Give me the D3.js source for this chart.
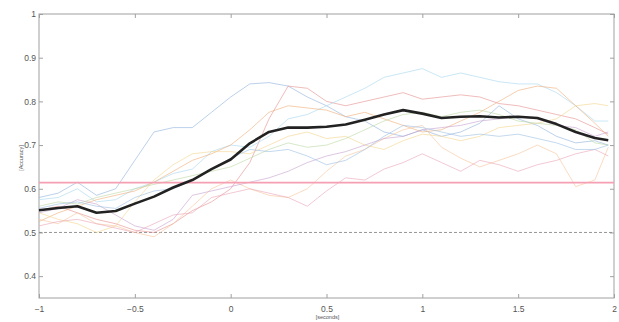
<!DOCTYPE html>
<html>
<head>
<meta charset="utf-8">
<script src="https://cdn.jsdelivr.net/npm/d3@7"></script>
<style>
  body { margin: 0; background: #fff; }
  svg { display: block; font-family: "Liberation Sans", Arial, sans-serif; }
</style>
</head>
<body>
<svg id="chart" width="619" height="322"></svg>
<script>
// time points (seconds)
const times = [-1, -0.9, -0.8, -0.7, -0.6, -0.5, -0.4, -0.3, -0.2, -0.1, 0, 0.1, 0.2, 0.3, 0.4, 0.5,
  0.6, 0.7, 0.8, 0.9, 1.0, 1.1, 1.2, 1.3, 1.4, 1.5, 1.6, 1.7, 1.8, 1.9, 1.97];

// individual subjects (thin lines)
const subjBlue   = [.58,.59,.615,.585,.60,.665,.73,.74,.74,.775,.81,.84,.843,.835,.81,.79,.765,.755,.73,.72,.735,.72,.73,.75,.79,.76,.745,.72,.705,.71,.70];
const subjRed    = [.55,.56,.545,.53,.52,.505,.50,.52,.55,.57,.60,.66,.76,.835,.83,.80,.79,.80,.81,.82,.805,.81,.815,.81,.795,.79,.78,.77,.76,.74,.725];
const subjCyan   = [.575,.58,.60,.57,.575,.60,.615,.635,.645,.685,.70,.695,.72,.76,.77,.79,.81,.83,.855,.865,.875,.855,.865,.855,.845,.84,.84,.82,.79,.755,.755];
const subjOrange = [.525,.545,.56,.575,.585,.595,.615,.64,.665,.68,.70,.735,.775,.79,.785,.78,.765,.775,.76,.745,.73,.735,.755,.775,.80,.825,.835,.83,.79,.75,.72];
const subjYellow = [.545,.53,.52,.50,.515,.57,.62,.655,.68,.685,.685,.68,.70,.72,.73,.715,.72,.70,.69,.71,.725,.72,.71,.72,.74,.745,.75,.76,.79,.795,.79];
const subjPeach  = [.53,.52,.545,.52,.515,.50,.49,.52,.56,.60,.62,.60,.585,.58,.60,.64,.675,.69,.715,.735,.745,.695,.67,.65,.665,.68,.70,.68,.605,.62,.695];
const subjPurple = [.545,.555,.575,.565,.54,.515,.505,.53,.585,.595,.605,.615,.625,.64,.66,.675,.685,.70,.715,.72,.735,.74,.745,.755,.76,.765,.76,.745,.74,.72,.73];
const subjPink   = [.515,.525,.53,.52,.51,.50,.52,.54,.545,.58,.59,.60,.59,.58,.56,.595,.625,.62,.645,.66,.68,.66,.64,.665,.655,.64,.655,.665,.68,.69,.675];
const subjGreen  = [.56,.57,.565,.58,.59,.60,.61,.62,.63,.64,.65,.67,.69,.705,.695,.70,.715,.735,.755,.77,.775,.765,.775,.78,.77,.755,.75,.745,.735,.705,.70];
const subjSteel  = [.555,.565,.57,.56,.555,.58,.595,.60,.62,.645,.67,.69,.685,.69,.675,.655,.665,.69,.72,.745,.74,.73,.72,.725,.72,.725,.715,.705,.69,.69,.70];

const subjects = [subjBlue, subjRed, subjCyan, subjOrange, subjYellow, subjPeach, subjPurple, subjPink, subjGreen, subjSteel];
const subjColors = ["#8fb3dc", "#e69090", "#a7d7ee", "#f0ad78", "#f4d68e", "#f6c49b", "#c6a1cf", "#eaa5b8", "#bad8a4", "#9cbfe2"];

// group mean (thick black)
const meanAcc = [.551,.556,.560,.545,.549,.566,.582,.603,.620,.645,.667,.704,.730,.740,.740,.742,.747,.758,.770,.780,.772,.762,.765,.766,.763,.765,.762,.748,.730,.716,.711];

const chanceLevel = 0.5;
const threshold = 0.614;

const xTicks = [-1, -0.5, 0, 0.5, 1, 1.5, 2];
const yTicks = [0.4, 0.5, 0.6, 0.7, 0.8, 0.9, 1];

const svg = d3.select("#chart");
const m = { left: 39, right: 614, top: 14, bottom: 298 };

const x = d3.scaleLinear().domain([-1, 2]).range([m.left, m.right]);
const y = d3.scaleLinear().domain([0.35, 1]).range([m.bottom, m.top]);

const fmt = d => d3.format("")(d);

// axes box
svg.append("rect")
  .attr("x", m.left).attr("y", m.top)
  .attr("width", m.right - m.left).attr("height", m.bottom - m.top)
  .attr("fill", "#fff")
  .attr("stroke", "#a0a0a0")
  .attr("stroke-width", 1);

const tickColor = "#a0a0a0";

// ticks drawn inside (matlab style), on all four sides
svg.append("g")
  .attr("transform", `translate(0,${m.bottom})`)
  .call(d3.axisBottom(x).tickValues(xTicks).tickSizeInner(-4).tickSizeOuter(0).tickPadding(8).tickFormat(fmt))
  .call(g => g.select(".domain").remove());

svg.append("g")
  .attr("transform", `translate(0,${m.top})`)
  .call(d3.axisTop(x).tickValues(xTicks).tickSizeInner(-4).tickSizeOuter(0).tickFormat(""))
  .call(g => g.select(".domain").remove());

svg.append("g")
  .attr("transform", `translate(${m.left},0)`)
  .call(d3.axisLeft(y).tickValues(yTicks).tickSizeInner(-4).tickSizeOuter(0).tickPadding(3).tickFormat(fmt))
  .call(g => g.select(".domain").remove());

svg.append("g")
  .attr("transform", `translate(${m.right},0)`)
  .call(d3.axisRight(y).tickValues(yTicks).tickSizeInner(-4).tickSizeOuter(0).tickFormat(""))
  .call(g => g.select(".domain").remove());

svg.selectAll(".tick line").attr("stroke", tickColor);
svg.selectAll(".tick text")
  .attr("fill", "#555")
  .attr("font-size", 8.5);

// chance level
svg.append("line")
  .attr("x1", x(-1)).attr("x2", x(2))
  .attr("y1", y(chanceLevel)).attr("y2", y(chanceLevel))
  .attr("stroke", "#8a8a8a")
  .attr("stroke-width", 0.9)
  .attr("stroke-dasharray", "3,2");

const line = d3.line()
  .x((d, i) => x(times[i]))
  .y(d => y(d));

// subject lines (faint)
svg.append("g")
  .attr("fill", "none")
  .attr("stroke-width", 1)
  .attr("stroke-opacity", 0.6)
  .selectAll("path")
  .data(subjects)
  .join("path")
  .attr("stroke", (d, i) => subjColors[i])
  .attr("d", line);

// significance threshold
svg.append("line")
  .attr("x1", x(-1)).attr("x2", x(2))
  .attr("y1", y(threshold)).attr("y2", y(threshold))
  .attr("stroke", "#f5a0b2")
  .attr("stroke-width", 1.6);

// mean
svg.append("path")
  .datum(meanAcc)
  .attr("fill", "none")
  .attr("stroke", "#222")
  .attr("stroke-width", 2.6)
  .attr("stroke-linejoin", "round")
  .attr("d", line);

// axis labels
svg.append("text")
  .attr("x", (m.left + m.right) / 2 + 1)
  .attr("y", 319)
  .attr("text-anchor", "middle")
  .attr("font-size", 5.5)
  .attr("fill", "#555")
  .text("[seconds]");

svg.append("text")
  .attr("transform", `translate(23,${(m.top + m.bottom) / 2 + 2}) rotate(-90)`)
  .attr("text-anchor", "middle")
  .attr("font-size", 5.5)
  .attr("fill", "#555")
  .text("[Accuracy]");
</script>
</body>
</html>
